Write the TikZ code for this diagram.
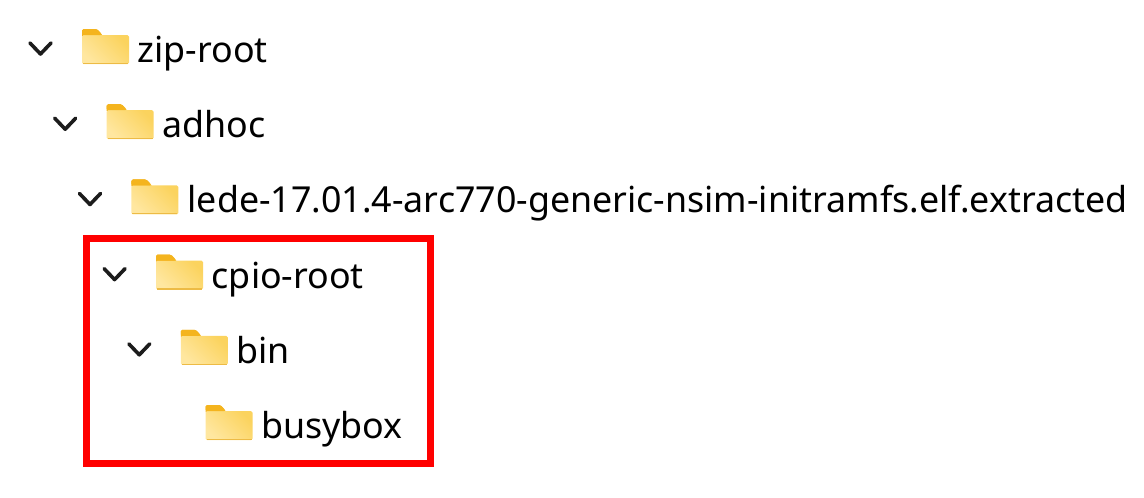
\documentclass[tikz,border=0pt]{standalone}
\usepackage{fontspec}
\setmainfont{Noto Sans}
\definecolor{tabc}{HTML}{F4B41E}
\definecolor{bodytl}{HTML}{FFE7A0}
\definecolor{bodybr}{HTML}{FBD35E}
\definecolor{bodyedge}{HTML}{EDBB45}
\definecolor{chev}{HTML}{1C1C1C}
\definecolor{hlred}{HTML}{FF0000}
\tikzset{
  folder/.pic={
    \fill[tabc,rounded corners=1.5pt] (0,0) -- (15,0) -- (19,4) -- (21,8) -- (0,8) -- cycle;
    \shade[left color=bodytl,right color=bodybr,shading angle=135,rounded corners=1.5pt]
      (0,6) rectangle (47,35);
    \draw[bodyedge,line width=1.2pt] (1,34.4) -- (46,34.4);
    \fill[tabc,rounded corners=1.5pt] (0,0) -- (15,0) -- (20,6) -- (0,6) -- cycle;
  },
  chevron/.pic={
    \draw[chev,line width=3.6pt,line cap=round,line join=round] (-10.5,-5.5) -- (0,5.5) -- (10.5,-5.5);
  },
  label/.style={anchor=base west,inner sep=0pt,font=\fontsize{35.8}{40}\selectfont,text=black},
  hlbox/.style={draw=hlred,line width=7pt}
}
\begin{document}
\begin{tikzpicture}[x=1pt,y=-1pt]
\useasboundingbox (0,0) rectangle (1144,498);
% rows: folder top = 29 + 75.2 i ; folder left = 82 + 24.7 i
\pic at (40.5,48.5) {chevron};
\pic at (82,29) {folder};
\node[label] (t0) at (137.5,62.5) {zip-root};

\pic at (65.2,123.7) {chevron};
\pic at (106.7,104.2) {folder};
\node[label] (t1) at (162.2,137.7) {adhoc};

\pic at (90,199) {chevron};
\pic at (131.4,179.4) {folder};
\node[label] (t2) at (187.4,212.9) {lede-17.01.4-arc770-generic-nsim-initramfs.elf.extracted};

\pic at (114.6,274.1) {chevron};
\pic at (156.1,254.6) {folder};
\node[label] (t3) at (211.6,288.1) {cpio-root};

\pic at (139.3,349.3) {chevron};
\pic at (180.8,329.8) {folder};
\node[label] (t4) at (236.3,363.3) {bin};

\pic at (205.5,405) {folder};
\node[label] (t5) at (261,438.5) {busybox};

\coordinate (hl1) at (86,238.5);
\coordinate (hl2) at (430.5,463);
\draw[hlbox] (hl1) rectangle (hl2);
\end{tikzpicture}
\end{document}
